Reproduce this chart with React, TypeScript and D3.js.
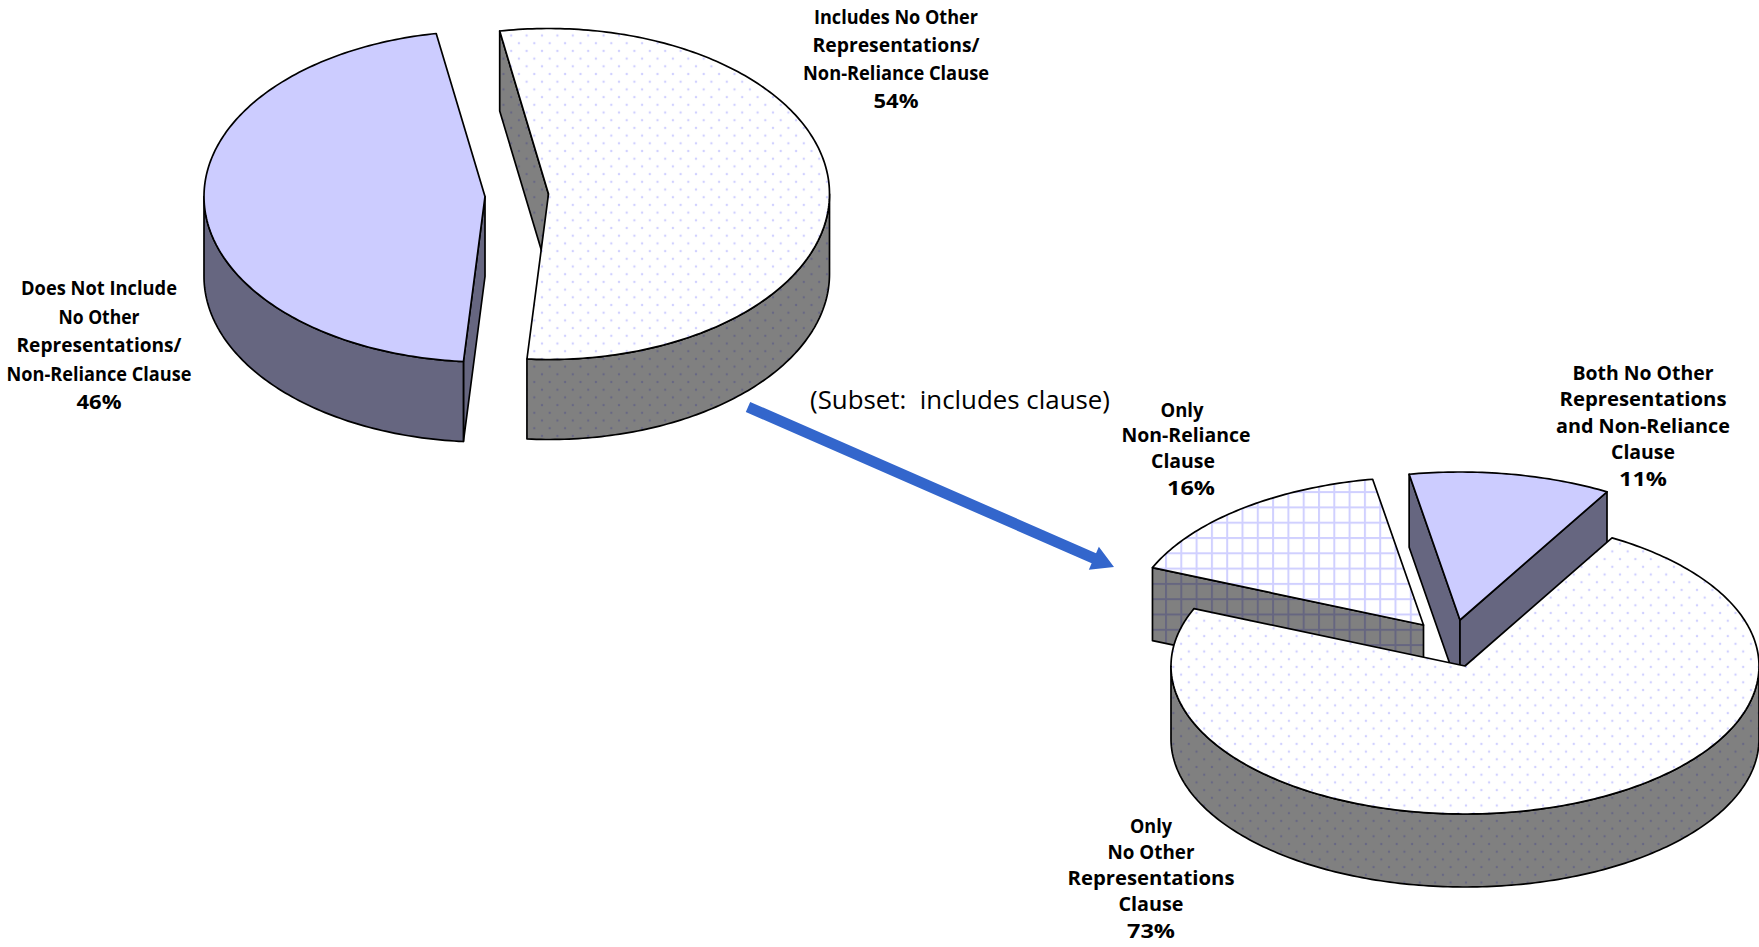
import React from "react";
import * as d3 from "d3";

const W = 1759, H = 947;
const FONT = "'Open Sans', 'Noto Sans', sans-serif";
const INK = "#000";

// ---- data ----
const clauseValues = [54, 46];
const clauseKeys = ["includes", "excludes"];
const subsetValues = [73, 15.9, 11.1];
const subsetKeys = ["onlyNoOther", "onlyNonReliance", "both"];

const includesLabel = ["Includes No Other", "Representations/", "Non-Reliance Clause", "54%"];
const excludesLabel = ["Does Not Include", "No Other", "Representations/", "Non-Reliance Clause", "46%"];
const onlyNoOtherLabel = ["Only", "No Other", "Representations", "Clause", "73%"];
const onlyNonRelianceLabel = ["Only", "Non-Reliance", "Clause", "16%"];
const bothLabel = ["Both No Other", "Representations", "and Non-Reliance", "Clause", "11%"];
const subsetNote = "(Subset:  includes clause)";

// ---- layout ----
type LabelLayout = { lines: string[]; xs: number[]; ys: number[]; ws: number[]; size: number };
const labelLayouts: LabelLayout[] = [
  { lines: includesLabel, xs: [896, 896, 896, 896], ys: [17, 45, 73, 101], ws: [164, 167, 186, 45], size: 20 },
  { lines: excludesLabel, xs: [99, 99, 99, 99, 99], ys: [288, 317, 345, 374, 402], ws: [156, 81, 165, 185, 45], size: 20 },
  { lines: onlyNoOtherLabel, xs: [1151, 1151, 1151, 1151, 1151], ys: [826, 852, 878, 904, 931], ws: [42, 87, 167, 65, 48], size: 20 },
  { lines: onlyNonRelianceLabel, xs: [1182, 1186, 1183, 1191], ys: [410, 435, 461, 488], ws: [43, 129, 64, 48], size: 20 },
  { lines: bothLabel, xs: [1643, 1643, 1643, 1643, 1643], ys: [373, 399, 426, 452, 479], ws: [141, 167, 174, 64, 48], size: 20 },
];

type Sl = { key: string; fill: string; side: string; cx: number; cy: number };

const pieOf = (vals: number[], keys: string[], startDeg: number) =>
  d3.pie<number>().sort(null).startAngle((startDeg * Math.PI) / 180).endAngle(((startDeg + 360) * Math.PI) / 180)(vals)
    .map((d, i) => ({ ...d, key: keys[i] }));

function ell(cx: number, cy: number, rx: number, ry: number, t: number): [number, number] {
  return [cx + rx * Math.sin(t), cy - ry * Math.cos(t)];
}
function arcPts(cx: number, cy: number, rx: number, ry: number, a0: number, a1: number) {
  const n = Math.max(2, Math.ceil(Math.abs(a1 - a0) * 60));
  return d3.range(n + 1).map((i) => ell(cx, cy, rx, ry, a0 + ((a1 - a0) * i) / n));
}
const line = d3.line();

function Slice({ sl, a0, a1, rx, ry, depth, cuts }: { sl: Sl; a0: number; a1: number; rx: number; ry: number; depth: number; cuts: ("start" | "end")[] }) {
  const { cx, cy, fill, side } = sl;
  const PI = Math.PI;
  const segs: [number, number][] = [];
  for (let k = -1; k <= 1; k++) {
    const lo = Math.max(a0, PI / 2 + 2 * PI * k), hi = Math.min(a1, (3 * PI) / 2 + 2 * PI * k);
    if (hi > lo) segs.push([lo, hi]);
  }
  const cutFaces = cuts.map((c) => {
    const p = ell(cx, cy, rx, ry, c === "start" ? a0 : a1);
    return [[cx, cy], p, [p[0], p[1] + depth], [cx, cy + depth]] as [number, number][];
  });
  const top = [[cx, cy], ...arcPts(cx, cy, rx, ry, a0, a1)] as [number, number][];
  return (
    <g stroke={INK} strokeWidth={1.7} strokeLinejoin="round">
      {cutFaces.map((f, i) => (
        <path key={i} d={line(f) + "Z"} fill={side} />
      ))}
      {segs.map(([lo, hi], i) => {
        const up = arcPts(cx, cy, rx, ry, lo, hi);
        const dn = arcPts(cx, cy + depth, rx, ry, hi, lo);
        return <path key={i} d={line([...up, ...dn] as [number, number][]) + "Z"} fill={side} />;
      })}
      <path d={line(top) + "Z"} fill={fill} />
    </g>
  );
}

function Label({ l }: { l: LabelLayout }) {
  return (
    <g fontFamily={FONT} fontWeight={700} fontSize={l.size} textAnchor="middle" fill="#000">
      {l.lines.map((t, i) => (
        <text key={i} x={l.xs[i]} y={l.ys[i]} dy="0.36em" textLength={l.ws[i]} lengthAdjust="spacingAndGlyphs">{t}</text>
      ))}
    </g>
  );
}

function Dots({ id, bg, dot, dx, dy }: { id: string; bg: string; dot: string; dx: number; dy: number }) {
  const P = 15.4;
  return (
    <pattern id={id} width={P} height={P} patternUnits="userSpaceOnUse" patternTransform={`translate(${dx} ${dy})`}>
      <rect width={P} height={P} fill={bg} />
      <circle cx={P / 4} cy={P / 4} r={1.2} fill={dot} />
      <circle cx={(3 * P) / 4} cy={(3 * P) / 4} r={1.2} fill={dot} />
    </pattern>
  );
}
function Grid({ id, bg, ln }: { id: string; bg: string; ln: string }) {
  const P = 15.3;
  return (
    <pattern id={id} width={P} height={P} patternUnits="userSpaceOnUse" patternTransform="translate(2.2 1.5)">
      <rect width={P} height={P} fill={bg} />
      <rect x={0} width={2} height={P} fill={ln} />
      <rect y={0} width={P} height={2} fill={ln} />
    </pattern>
  );
}

export default function App() {
  const RX1 = 281, RY1 = 165.5, D1 = 80;
  const RX2 = 294, RY2 = 148, D2 = 73;
  const p1 = pieOf(clauseValues, clauseKeys, -10);
  const p2 = pieOf(subsetValues, subsetKeys, 30);

  const s1: Record<string, Sl> = {
    includes: { key: "includes", fill: "url(#dotsW)", side: "url(#dotsG)", cx: 548.5, cy: 194 },
    excludes: { key: "excludes", fill: "#CCCCFF", side: "#666680", cx: 485, cy: 196.5 },
  };
  const s2: Record<string, Sl> = {
    onlyNoOther: { key: "onlyNoOther", fill: "url(#dotsW)", side: "url(#dotsG)", cx: 1465, cy: 666 },
    onlyNonReliance: { key: "onlyNonReliance", fill: "url(#gridW)", side: "url(#gridG)", cx: 1423.5, cy: 625 },
    both: { key: "both", fill: "#CCCCFF", side: "#666680", cx: 1460, cy: 620 },
  };
  const [ax0, ay0, ax1, ay1] = [748, 407, 1114, 567];
  const ang = Math.atan2(ay1 - ay0, ax1 - ax0);
  const ux = Math.cos(ang), uy = Math.sin(ang);
  const hw = 5.5, hl = 22, hh = 12.5;
  const nx = -uy, ny = ux;
  const bx = ax1 - ux * hl, by = ay1 - uy * hl;
  const arrow = [
    [ax0 + nx * hw, ay0 + ny * hw], [bx + nx * hw, by + ny * hw], [bx + nx * hh, by + ny * hh], [ax1, ay1],
    [bx - nx * hh, by - ny * hh], [bx - nx * hw, by - ny * hw], [ax0 - nx * hw, ay0 - ny * hw],
  ] as [number, number][];

  return (
    <svg width={W} height={H} viewBox={`0 0 ${W} ${H}`} style={{ position: "absolute", left: 0, top: 0, background: "#fff" }}>
      <defs>
        <Dots id="dotsW" bg="#fff" dot="#D0D0FF" dx={6.85} dy={8.55} />
        <Dots id="dotsG" bg="#808080" dot="#686884" dx={6.85} dy={8.55} />
        <Grid id="gridW" bg="#fff" ln="#D0D0FF" />
        <Grid id="gridG" bg="#808080" ln="#666680" />
      </defs>

      {p1.slice().reverse().map((d) => (
        <Slice key={d.key} sl={s1[d.key]} a0={d.startAngle} a1={d.endAngle} rx={RX1} ry={RY1} depth={D1} cuts={["start"]} />
      ))}
      {[p2[1], p2[2], p2[0]].map((d) => (
        <Slice key={d.key} sl={s2[d.key]} a0={d.startAngle} a1={d.endAngle} rx={RX2} ry={RY2} depth={D2}
          cuts={d.key === "onlyNonReliance" ? ["start"] : d.key === "both" ? ["start", "end"] : []} />
      ))}

      <path d={line(arrow) + "Z"} fill="#3366CC" />
      <text x={960} y={400} dy="0.36em" textAnchor="middle" fontFamily={FONT} fontSize={25} fill="#000" xmlSpace="preserve" textLength={300} lengthAdjust="spacingAndGlyphs">{subsetNote}</text>

      {labelLayouts.map((l, i) => <Label key={i} l={l} />)}
    </svg>
  );
}
